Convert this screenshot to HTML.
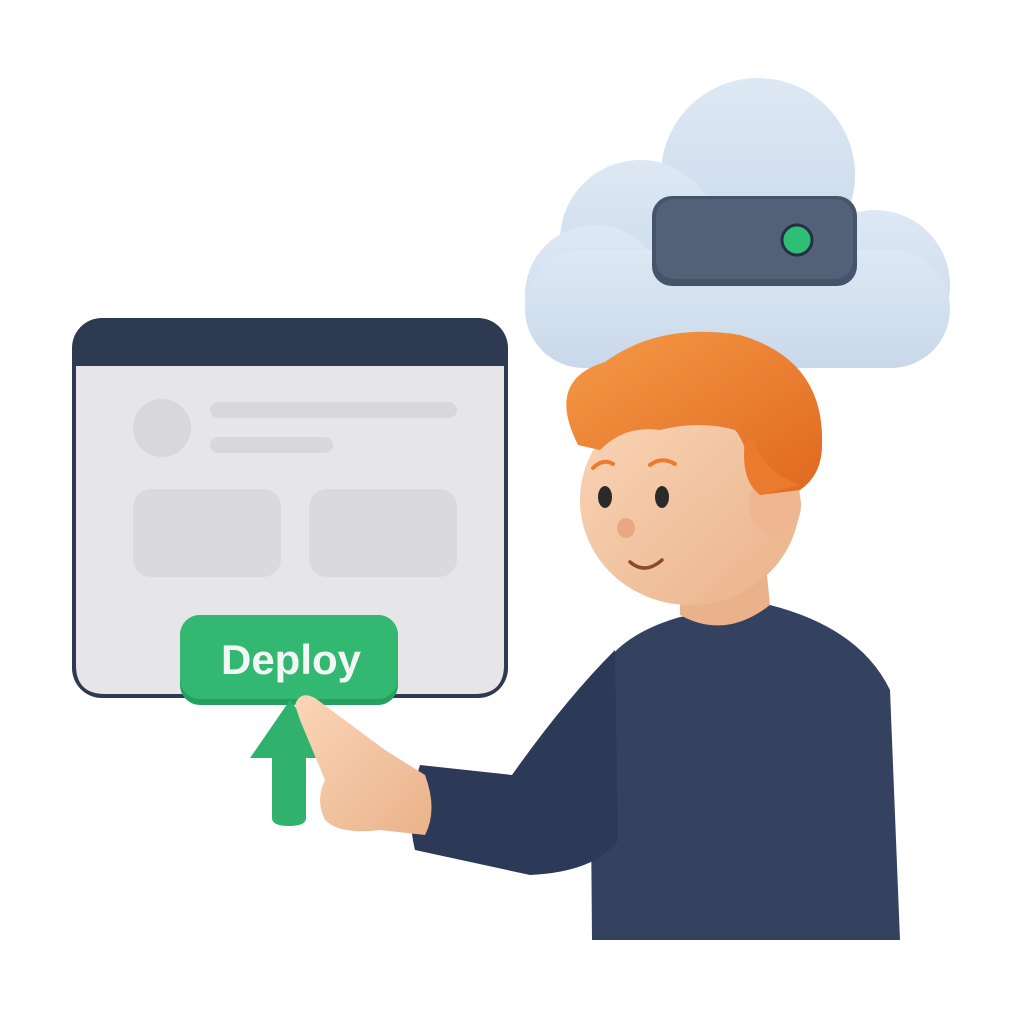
<!DOCTYPE html>
<html><head><style>html,body{margin:0;padding:0;background:#fff}</style></head><body>
<svg width="1024" height="1024" viewBox="0 0 1024 1024" xmlns="http://www.w3.org/2000/svg">
<defs>
<linearGradient id="cl" x1="0" y1="0" x2="0" y2="1"><stop offset="0" stop-color="#dde8f4"/><stop offset="1" stop-color="#c9d8ea"/></linearGradient>
<linearGradient id="hair" x1="0" y1="0" x2="1" y2="1"><stop offset="0" stop-color="#f59a48"/><stop offset="1" stop-color="#e0681f"/></linearGradient>
<linearGradient id="skin" x1="0" y1="0" x2="1" y2="1"><stop offset="0" stop-color="#fad6b8"/><stop offset="1" stop-color="#eab28a"/></linearGradient>
</defs>
<!-- cloud -->
<g fill="url(#cl)">
<circle cx="758" cy="175" r="97"/>
<circle cx="640" cy="240" r="80"/>
<circle cx="595" cy="295" r="70"/>
<circle cx="875" cy="285" r="75"/>
<rect x="525" y="250" width="425" height="118" rx="59"/>
</g>
<rect x="652" y="196" width="205" height="90" rx="20" fill="#47536a"/>
<rect x="656" y="199" width="197" height="80" rx="18" fill="#526078"/>
<circle cx="797" cy="240" r="15" fill="#2fbf74" stroke="#253044" stroke-width="3"/>
<!-- browser window -->
<rect x="72" y="318" width="436" height="380" rx="30" fill="#2d3a52"/>
<path d="M76 366 H504 V665 Q504 694 475 694 H105 Q76 694 76 665 Z" fill="#e6e6e8"/>
<circle cx="162" cy="428" r="29" fill="#d8d8da"/>
<rect x="210" y="402" width="247" height="16" rx="8" fill="#d8d8da"/>
<rect x="210" y="437" width="123" height="16" rx="8" fill="#d8d8da"/>
<rect x="133" y="489" width="148" height="88" rx="18" fill="#dadadc"/>
<rect x="309" y="489" width="148" height="88" rx="18" fill="#dadadc"/>
<!-- deploy button -->
<rect x="180" y="615" width="218" height="90" rx="20" fill="#26a05f"/>
<rect x="180" y="615" width="218" height="84" rx="20" fill="#33b872"/>
<text x="291" y="674" font-family="Liberation Sans, sans-serif" font-weight="bold" font-size="42" fill="#f2f6f4" text-anchor="middle">Deploy</text>
<!-- arrow -->
<path d="M290 700 L333 758 L306 758 L306 818 Q306 826 289 826 Q272 826 272 818 L272 758 L250 758 Z" fill="#30b26e"/>
<!-- torso -->
<path d="M592 940 L590 700 Q600 640 680 617 L770 605 Q860 628 890 690 L900 940 Z" fill="#34425f"/>
<!-- arm -->
<path d="M615 650 Q565 700 512 775 L420 765 Q405 810 415 850 L530 875 Q595 872 618 840 Z" fill="#2c3a58"/>
<!-- hand -->
<path d="M295 705 Q300 690 315 698 L385 750 L425 775 Q438 810 425 835 L380 830 Q340 835 325 820 Q315 800 325 780 L300 720 Z" fill="url(#skin)"/>
<!-- neck -->
<path d="M680 560 L680 615 Q725 640 770 605 L765 555 Z" fill="#eab28a"/>
<!-- head -->
<ellipse cx="690" cy="500" rx="110" ry="105" fill="url(#skin)"/>
<ellipse cx="775" cy="505" rx="26" ry="32" fill="#eeb792"/>
<!-- hair -->
<path d="M578 445 Q545 380 605 362 Q660 322 740 335 Q825 360 822 445 Q822 475 800 490 L760 495 Q745 440 735 430 Q700 420 660 430 Q625 425 600 450 Z" fill="url(#hair)"/>
<path d="M745 440 Q740 480 760 495 L800 485 Q760 470 755 440 Z" fill="#ec7a2e"/>
<!-- face -->
<path d="M593 468 Q603 458 613 464" stroke="#ee7a30" stroke-width="4" fill="none" stroke-linecap="round"/>
<path d="M650 465 Q662 456 675 464" stroke="#ee7a30" stroke-width="4" fill="none" stroke-linecap="round"/>
<ellipse cx="605" cy="497" rx="7" ry="11" fill="#2a2a2a"/>
<ellipse cx="662" cy="497" rx="7" ry="11" fill="#2a2a2a"/>
<ellipse cx="626" cy="528" rx="9" ry="10" fill="#eaa884"/>
<path d="M630 562 Q645 575 662 560" stroke="#8b4a2a" stroke-width="3.5" fill="none" stroke-linecap="round"/>
</svg>
</body></html>
